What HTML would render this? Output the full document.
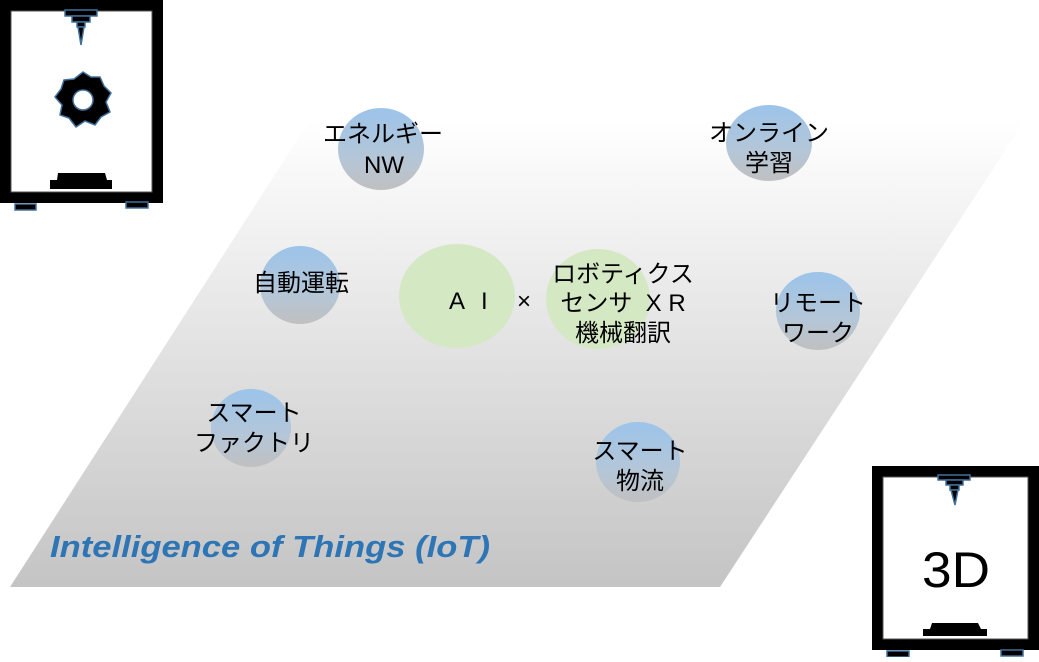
<!DOCTYPE html>
<html><head><meta charset="utf-8"><style>
body{margin:0;width:1039px;height:657px;overflow:hidden;background:#fff}
svg text{font-family:"Liberation Sans","Noto Sans CJK JP",sans-serif;fill:#000}
</style></head><body>
<svg width="1039" height="657" viewBox="0 0 1039 657">
<defs>
<linearGradient id="pg" x1="0" y1="0" x2="0" y2="1"><stop offset="0" stop-color="#fff"/><stop offset="1" stop-color="#c4c4c4"/></linearGradient>
<linearGradient id="bl" x1="0" y1="0" x2="0" y2="1"><stop offset="0" stop-color="#9cc4ea"/><stop offset="0.6" stop-color="#b4c6d8"/><stop offset="1" stop-color="#c0c0c0"/></linearGradient>
</defs>
<polygon points="310,120 1025,120 720,587 10,587" fill="url(#pg)"/>
<text x="50" y="557" font-size="31" font-weight="bold" font-style="italic" textLength="440" lengthAdjust="spacingAndGlyphs" style="fill:#2e75b6">Intelligence of Things (IoT)</text>
<ellipse cx="457" cy="296" rx="58" ry="52" fill="#d5e8c4"/>
<ellipse cx="598" cy="299" rx="52" ry="50" fill="#d5e8c4"/>
<g fill="url(#bl)">
<ellipse cx="381" cy="149" rx="43" ry="41"/>
<ellipse cx="769" cy="143" rx="43" ry="38"/>
<ellipse cx="300" cy="285" rx="40" ry="39"/>
<ellipse cx="818" cy="311" rx="42" ry="39"/>
<ellipse cx="251" cy="428" rx="40" ry="39"/>
<ellipse cx="638" cy="462" rx="42" ry="40"/>
</g>
<g font-size="24" text-anchor="middle">
<text x="383" y="142">エネルギー</text><text x="384" y="173">NW</text>
<text x="769" y="141">オンライン</text><text x="769" y="171">学習</text>
<text x="301" y="291">自動運転</text>
<text x="818" y="311">リモート</text><text x="818" y="341">ワーク</text>
<text x="254" y="421">スマート</text><text x="254" y="451">ファクトリ</text>
<text x="640" y="459">スマート</text><text x="640" y="489">物流</text>
<text x="623" y="282">ロボティクス</text>
<text x="623" y="311">センサ &#160;X R</text>
<text x="623" y="341">機械翻訳</text>
</g>
<text x="449" y="309" font-size="24" textLength="82" lengthAdjust="spacing">A I &#160;×</text>
<!-- printer 1 -->
<rect x="0" y="0" width="163" height="203" fill="#000"/>
<rect x="11" y="11" width="141" height="181" fill="#fff" stroke="#555"/>
<g fill="#000" stroke="#41719c" stroke-width="1.5">
<rect x="65" y="10" width="32" height="6"/><rect x="72" y="16" width="18" height="6"/><rect x="77" y="22" width="8" height="5"/>
<polygon points="78,27 84,27 81,45"/>
<rect x="15" y="204" width="21" height="6"/><rect x="126" y="202" width="22" height="6"/>
<polygon points="83,72 91,77 100,77 104,86 111,93 106,102 110,112 101,117 95,125 85,121 76,127 69,118 60,115 62,105 55,97 61,89 64,80 74,79"/>
</g>
<circle cx="83" cy="100" r="10" fill="#fff" stroke="#41719c" stroke-width="1.5"/>
<polygon points="58,173 105,173 107,180 112,180 112,189 50,189 50,180 57,180" fill="#000"/>
<!-- printer 2 -->
<rect x="872" y="466" width="167" height="184" fill="#000"/>
<rect x="883" y="477" width="145" height="162" fill="#fff" stroke="#555"/>
<g fill="#000" stroke="#41719c" stroke-width="1.5">
<rect x="938" y="475" width="32" height="5"/><rect x="946" y="480" width="17" height="5"/><rect x="950" y="485" width="9" height="5"/>
<polygon points="951,490 958,490 955,505"/>
<rect x="887" y="651" width="22" height="6"/><rect x="1001" y="650" width="22" height="6"/>
</g>
<polygon points="932,623 978,623 981,629 987,629 987,636 923,636 923,629 930,629" fill="#000"/>
<text x="922" y="587" font-size="50" textLength="68" lengthAdjust="spacingAndGlyphs">3D</text>
</svg>
</body></html>
